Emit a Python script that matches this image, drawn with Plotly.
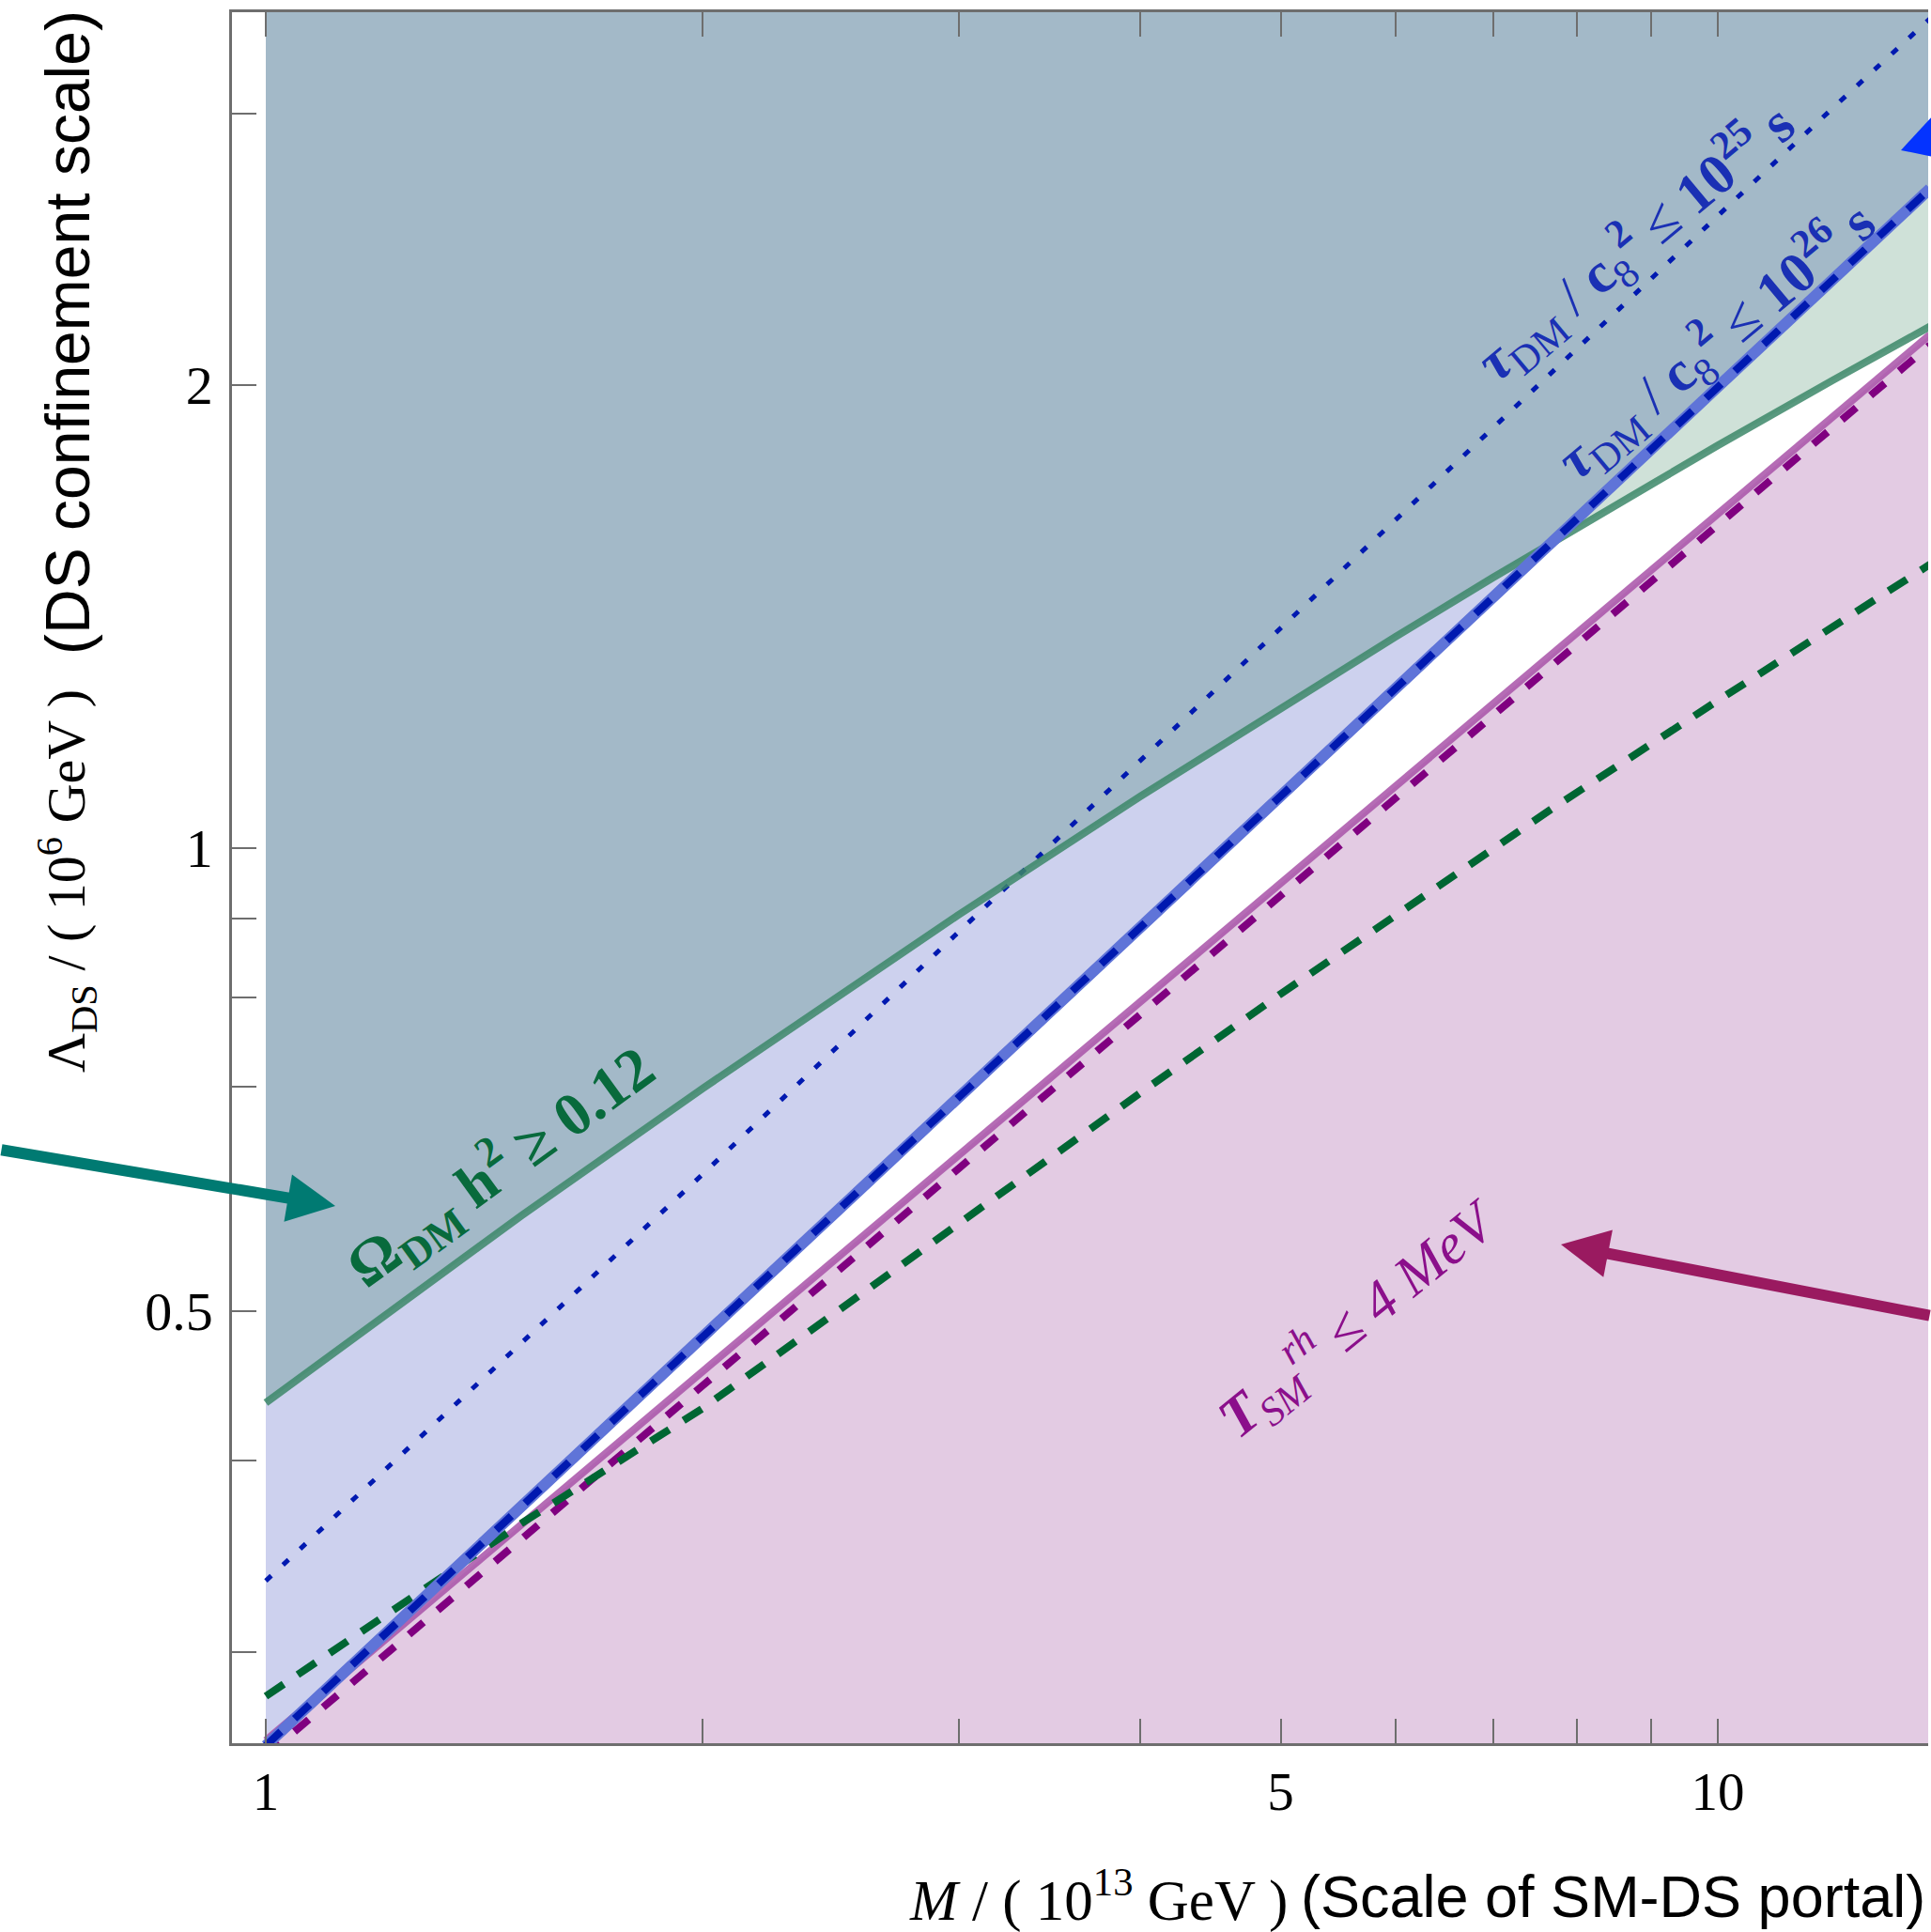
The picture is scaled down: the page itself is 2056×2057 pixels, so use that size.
import numpy as np
import plotly.graph_objects as go

# ---------------- data ----------------
# x: M / (1e13 GeV); y: Lambda_DS / (1e6 GeV)
M = [1, 1.5, 2, 3, 4, 5, 6, 7, 7.69, 10, 12, 14]
omega_bound = [0.436, 0.577, 0.698, 0.905, 1.080, 1.234, 1.372, 1.499, 1.580, 1.827, 2.014, 2.183]   # Omega h^2 = 0.12 (solid green)
tau26_bound = [0.261, 0.373, 0.481, 0.688, 0.888, 1.081, 1.270, 1.455, 1.580, 1.994, 2.342, 2.683]   # tau/c8^2 = 1e26 s (blue dashed)
tau25_bound = [0.334, 0.4765, 0.614, 0.882, 1.140, 1.391, 1.636, 1.877, 2.040, 2.576, 3.027, 3.460]  # tau/c8^2 = 1e25 s (blue dotted)
trh_bound = [0.263, 0.3635, 0.457, 0.632, 0.794, 0.949, 1.097, 1.240, 1.337, 1.648, 1.906, 2.156]    # T_rh = 4 MeV (pink solid)
trh_alt = [0.257, 0.356, 0.4475, 0.619, 0.779, 0.932, 1.078, 1.219, 1.315, 1.622, 1.877, 2.123]      # purple dashed
omega_alt = [0.281, 0.364, 0.4325, 0.571, 0.693, 0.804, 0.905, 1.000, 1.061, 1.247, 1.394, 1.529]   # green dashed

x_ticks = [1, 5, 10]
x_ticktext = ['1', '5', '10']
x_minor = [2, 3, 4, 6, 7, 8, 9]
y_ticks = [0.5, 1, 2]
y_ticktext = ['0.5', '1', '2']
y_minor = [0.3, 0.4, 0.6, 0.7, 0.8, 0.9, 3]

# ---------------- layout geometry ----------------
W, H = 2056, 2057
ML, MR, MT, MB = 247, 3, 13, 201
PW, PH = W - ML - MR, H - MT - MB


def px(x, y):
    """pixel position -> paper coordinates (for annotations only)"""
    return (x - ML) / PW, (H - MB - y) / PH


upper = np.maximum(np.array(omega_bound), np.array(tau26_bound))
bottom = [0.2] * len(M)
top = [4.0] * len(M)

fig = go.Figure()


def band(lower, upper_, color):
    fig.add_trace(go.Scatter(x=M, y=list(lower), mode='lines', line=dict(width=0),
                             hoverinfo='skip', showlegend=False))
    fig.add_trace(go.Scatter(x=M, y=list(upper_), mode='lines', line=dict(width=0),
                             fill='tonexty', fillcolor=color, hoverinfo='skip', showlegend=False))


band(bottom, trh_bound, '#e3cbe3')          # T_rh excluded
band(tau26_bound, upper, '#cdd1ee')         # lifetime excluded only
band(omega_bound, upper, '#cfe1d8')         # relic excluded only
band(upper, top, '#a3b9c8')                 # both excluded


def line(y, color, width, dash='solid'):
    fig.add_trace(go.Scatter(x=M, y=y, mode='lines',
                             line=dict(color=color, width=width, dash=dash),
                             hoverinfo='skip', showlegend=False))


line(trh_bound, 'rgba(168,82,168,0.85)', 8)
line(trh_alt, '#800080', 8, '20px,20px')
line(omega_alt, '#006633', 8, '23px,18px')
line(tau25_bound, '#0019b0', 5, '8px,17px')
line(omega_bound, 'rgba(60,135,105,0.85)', 8)
line(tau26_bound, '#5f74d8', 12)
line(tau26_bound, '#0019b0', 8, '22px,20px')

axis_col = '#6e6e6e'
tick_style = dict(ticks='inside', ticklen=26, tickwidth=2, tickcolor=axis_col)
fig.update_xaxes(type='log', range=[-0.02329, 1.14489], tickvals=x_ticks, ticktext=x_ticktext,
                 minor=dict(tickvals=x_minor, showgrid=False, **tick_style),
                 showline=True, linecolor=axis_col, linewidth=2.5, mirror='ticks',
                 showgrid=False, zeroline=False,
                 tickfont=dict(family='Liberation Serif', size=57, color='black'), **tick_style)
fig.update_yaxes(type='log', range=[-0.5818, 0.5433], tickvals=y_ticks, ticktext=y_ticktext,
                 minor=dict(tickvals=y_minor, showgrid=False, **tick_style),
                 showline=True, linecolor=axis_col, linewidth=2.5, mirror=False,
                 showgrid=False, zeroline=False, ticklabelstandoff=6,
                 tickfont=dict(family='Liberation Serif', size=58, color='black'), **tick_style)

ann = []


def text(xp, yp, t, size, color, angle=0, family='Liberation Serif', xanchor='center'):
    x, y = px(xp, yp)
    ann.append(dict(x=x, y=y, xref='paper', yref='paper', text=t, showarrow=False,
                    textangle=angle, xanchor=xanchor, yanchor='middle',
                    font=dict(family=family, size=size, color=color)))


def arrow(tipx, tipy, ax, ay, color, width=12, size=0.85):
    x, y = px(tipx, tipy)
    ann.append(dict(x=x, y=y, xref='paper', yref='paper', text='', showarrow=True,
                    ax=ax, ay=ay, arrowhead=2, arrowsize=size, arrowwidth=width,
                    arrowcolor=color, standoff=0))


text(532, 1242, '<b>Ω<sub>DM</sub> h<sup>2</sup> ≥ 0.12</b>', 65, '#086a3c', -36)
text(1741, 258, '<b><i>τ</i></b><sub>DM</sub> / <b>c</b><sub>8</sub><sup><b>2</b></sup> ≤ <b>10<sup>25</sup> s</b>',
     61, '#1a30b4', -40)
text(1826, 362, '<b><i>τ</i></b><sub>DM</sub> / <b>c</b><sub>8</sub><sup><b>2</b></sup> ≤ <b>10<sup>26</sup> s</b>',
     61, '#1a30b4', -40)
text(1445, 1403, '<b><i>T</i></b><sub><i>SM</i></sub><sup><i>rh</i></sup> ≤ <i>4 MeV</i>', 61, '#8b0f8b', -39)

# axis titles
text(71, 938, 'Λ<sub>DS</sub> / ( 10<sup>6</sup> GeV )', 58, 'black', -90)
text(72, 354, '(DS confinement scale)', 66, 'black', -90, family='Liberation Sans')
text(966, 2019, '<i>M</i> / ( 10<sup>13</sup> GeV )', 61, 'black', 0, xanchor='left')
text(1383, 2019, '(Scale of SM-DS portal)', 63, 'black', 0, family='Liberation Sans', xanchor='left')

# arrows
arrow(357, 1284, -377, -60, '#007a72')
arrow(1662, 1325, 420, 76, '#9a1a60')

# blue arrow: only its head is visible at the right edge (tail lies outside the figure)
tip = np.array([2024.0, 160.0])
u = np.array([np.cos(np.radians(18)), -np.sin(np.radians(18))])
n = np.array([-u[1], u[0]])
base = tip + 47 * u
c1, c2 = base + 26.5 * n, base - 26.5 * n
pts = [px(*tip), px(*c1), px(*c2)]
path = 'M {} {} L {} {} L {} {} Z'.format(*[v for p in pts for v in p])

fig.update_layout(width=W, height=H, margin=dict(l=ML, r=MR, t=MT, b=MB, pad=0),
                  plot_bgcolor='white', paper_bgcolor='white', annotations=ann,
                  shapes=[dict(type='path', xref='paper', yref='paper', path=path,
                               fillcolor='#0433ff', line=dict(width=0), layer='above')],
                  showlegend=False)

fig.write_html('out.html')
